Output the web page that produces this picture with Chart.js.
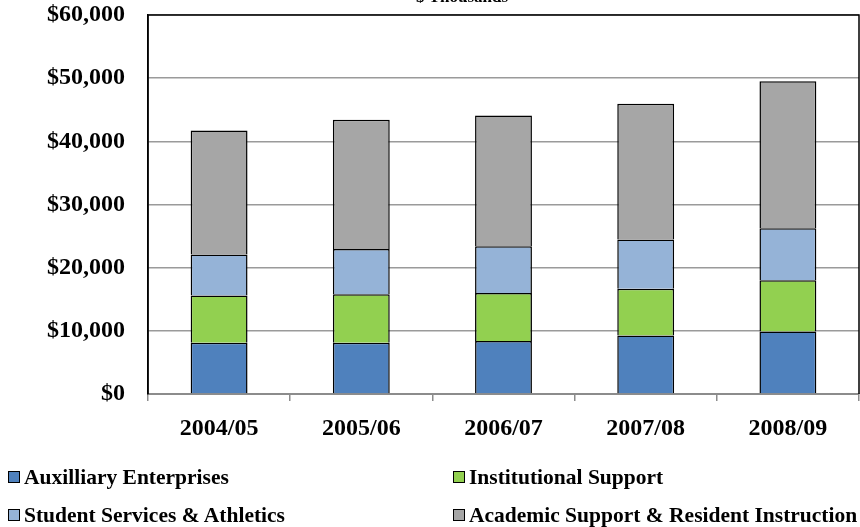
<!DOCTYPE html>
<html>
<head>
<meta charset="utf-8">
<script src="https://cdn.jsdelivr.net/npm/chart.js@4.4.0/dist/chart.umd.min.js"></script>
<style>
  body { margin: 0; background: #fff; }
  #wrap { position: relative; width: 860px; height: 527px; }
  #legend { position: absolute; left: 0; top: 0; width: 860px; height: 527px; pointer-events: none;
            font-family: "Liberation Serif", "Times New Roman", serif; font-weight: bold; font-size: 21.5px; color: #000; }
  .item { position: absolute; white-space: nowrap; line-height: 20px; }
  .box { display: inline-block; width: 10px; height: 10px; border: 1px solid #000; margin-right: 4px; vertical-align: 1px; }
</style>
</head>
<body>
<div id="wrap">
  <canvas id="chart" width="860" height="527"></canvas>
  <div id="legend"></div>
</div>
<script>
// $ thousands
const years = ['2004/05', '2005/06', '2006/07', '2007/08', '2008/09']
const auxilliary = [8100, 8100, 8400, 9250, 9900]
const institutional = [7500, 7700, 7600, 7400, 8100]
const studentServices = [6500, 7150, 7400, 7800, 8250]
const academic = [19600, 20450, 20700, 21500, 23250]

const seriesNames = ['Auxilliary Enterprises', 'Institutional Support',
    'Student Services & Athletics', 'Academic Support & Resident Instruction']
const seriesColors = ['#4F81BD', '#92D050', '#95B3D7', '#A6A6A6']

function makeSet(i, values) {
    return {
        label: seriesNames[i],
        data: values,
        backgroundColor: seriesColors[i],
        borderColor: '#000',
        borderWidth: 1.5,
        barPercentage: 0.4,
        categoryPercentage: 1.0,
        stack: 's'
    }
}

const fontTick = { family: '"Liberation Serif", "Times New Roman", serif', weight: 'bold', size: 24 }

const extras = {
    id: 'extras',
    afterDraw(chart) {
        const ctx = chart.ctx
        const a = chart.chartArea
        ctx.save()
        ctx.strokeStyle = '#000'
        ctx.lineWidth = 1.5
        ctx.beginPath()
        ctx.moveTo(a.left, a.bottom)
        ctx.lineTo(a.left, a.top)
        ctx.lineTo(a.right, a.top)
        ctx.lineTo(a.right, a.bottom)
        ctx.stroke()
        ctx.fillStyle = '#000'
        ctx.font = 'bold 17px "Liberation Serif", serif'
        ctx.textAlign = 'center'
        ctx.textBaseline = 'alphabetic'
        ctx.fillText('$ Thousands', 462, 2)
        ctx.restore()
    }
}

new Chart(document.getElementById('chart').getContext('2d'), {
    type: 'bar',
    data: {
        labels: years,
        datasets: [
            makeSet(0, auxilliary),
            makeSet(1, institutional),
            makeSet(2, studentServices),
            makeSet(3, academic)
        ]
    },
    options: {
        responsive: false,
        animation: false,
        layout: { padding: { top: 15, right: 1, left: 0, bottom: 0 } },
        plugins: { legend: { display: false }, tooltip: { enabled: false } },
        scales: {
            x: {
                stacked: true,
                afterFit(s) { s.height = 133 },
                grid: { offset: true, drawOnChartArea: false, drawTicks: true, tickLength: 7, color: '#8c8c8c', lineWidth: 1.5 },
                border: { color: '#8c8c8c', width: 2 },
                ticks: { color: '#000', font: fontTick, padding: 13 }
            },
            y: {
                stacked: true,
                min: 0,
                max: 60000,
                afterFit(s) { s.width = 148; s.paddingTop = 0; s.paddingBottom = 0 },
                grid: { color: '#9a9a9a', lineWidth: 1.5, drawTicks: false },
                border: { color: '#000', width: 1.5 },
                ticks: {
                    stepSize: 10000,
                    padding: 23,
                    color: '#000',
                    font: fontTick,
                    callback: v => '$' + v.toLocaleString('en-US')
                }
            }
        }
    },
    plugins: [extras]
})

// legend, two columns
const legendPos = [[8, 467], [453, 467], [8, 505], [453, 505]]
const legend = document.getElementById('legend')
seriesNames.forEach((name, i) => {
    const d = document.createElement('div')
    d.className = 'item'
    d.style.left = legendPos[i][0] + 'px'
    d.style.top = legendPos[i][1] + 'px'
    const b = document.createElement('span')
    b.className = 'box'
    b.style.background = seriesColors[i]
    d.appendChild(b)
    d.appendChild(document.createTextNode(name))
    legend.appendChild(d)
})
</script>
</body>
</html>
